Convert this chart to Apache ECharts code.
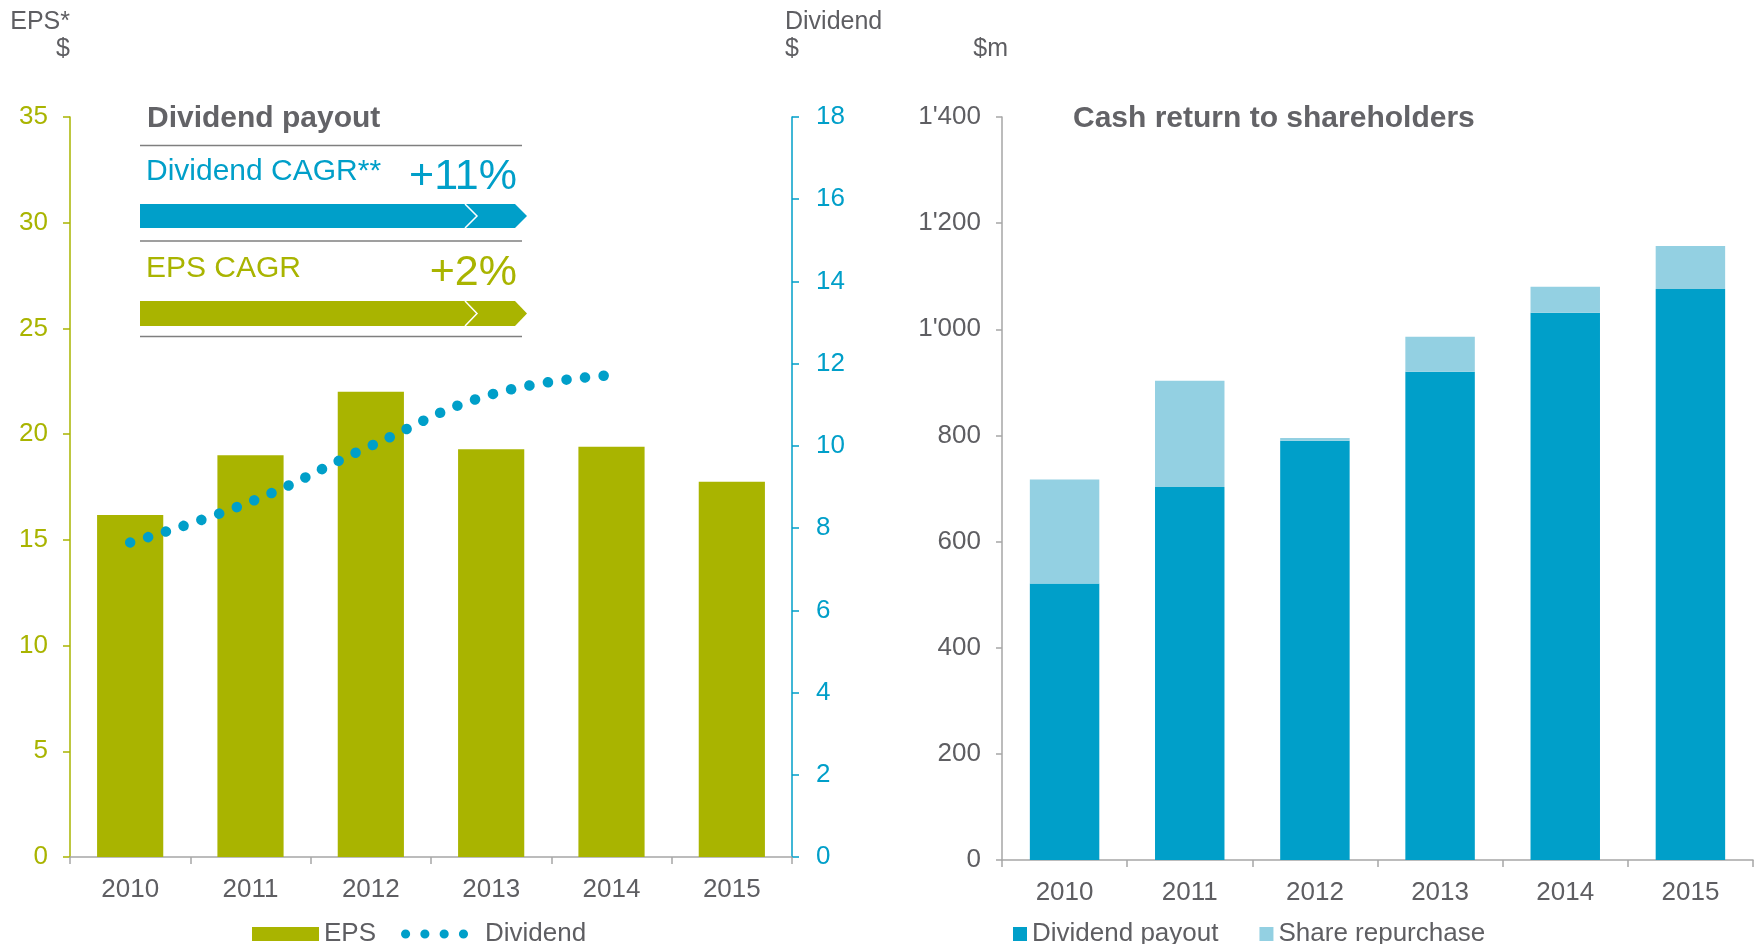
<!DOCTYPE html>
<html>
<head>
<meta charset="utf-8">
<script src="https://cdn.jsdelivr.net/npm/echarts@6/dist/echarts.min.js"></script>
<style>
html,body{margin:0;padding:0;background:#fff;}
#chart{width:1763px;height:944px;}
</style>
</head>
<body>
<div id="chart"></div>
<script>
// ---- data ----
var years = ['2010', '2011', '2012', '2013', '2014', '2015'];
var eps = [16.18, 19.0, 22.0, 19.28, 19.4, 17.75];
var dividend = [7.65, 8.64, 10.0, 11.25, 11.72, null];
var dividendPayout = [521, 703, 790, 920, 1031, 1076];
var shareRepurchase = [196, 200, 5, 66, 49, 81];
var epsTicks = {min: 0, max: 35, step: 5};
var divTicks = {min: 0, max: 18, step: 2};
var cashTicks = {min: 0, max: 1400, step: 200};

var OLIVE = '#A9B400';
var BLUE = '#009FC9';
var LIGHT = '#93D0E2';
var GRAY = '#5E5E62';
var TITLE = '#636367';
var AXIS = '#A6A6A6';
var FONT = '"Liberation Sans", Arial, sans-serif';

function fmtThousands(v) {
  if (v >= 1000) {
    var r = String(v % 1000);
    while (r.length < 3) r = '0' + r;
    return Math.floor(v / 1000) + "'" + r;
  }
  return String(v);
}

var dotsIcon = 'path://M0,4.5a4.5,4.5 0 1,0 9,0a4.5,4.5 0 1,0 -9,0Z M19,4.5a4.5,4.5 0 1,0 9,0a4.5,4.5 0 1,0 -9,0Z M38,4.5a4.5,4.5 0 1,0 9,0a4.5,4.5 0 1,0 -9,0Z M57,4.5a4.5,4.5 0 1,0 9,0a4.5,4.5 0 1,0 -9,0Z';

var chart = echarts.init(document.getElementById('chart'), null, {renderer: 'canvas'});

var option = {
  backgroundColor: '#fff',
  animation: false,
  textStyle: {fontFamily: FONT},
  title: [
    {text: 'Dividend payout', left: 147, top: 104, padding: 0,
     textStyle: {fontFamily: FONT, fontSize: 30, fontWeight: 'bold', color: TITLE}},
    {text: 'Cash return to shareholders', left: 1073, top: 104, padding: 0,
     textStyle: {fontFamily: FONT, fontSize: 30, fontWeight: 'bold', color: TITLE}}
  ],
  legend: [
    {left: 252, top: 921, padding: 0, itemWidth: 67, itemHeight: 14, itemGap: 25,
     textStyle: {fontFamily: FONT, fontSize: 26, color: GRAY},
     data: [{name: 'EPS', icon: 'rect'},
            {name: 'Dividend', icon: dotsIcon, itemStyle: {color: BLUE, borderWidth: 0},
             textStyle: {padding: [0, 0, 0, 12]}}]},
    {left: 1013, top: 921, padding: 0, itemWidth: 14, itemHeight: 14, itemGap: 41,
     textStyle: {fontFamily: FONT, fontSize: 26, color: GRAY},
     data: [{name: 'Dividend payout', icon: 'rect'}, {name: 'Share repurchase', icon: 'rect'}]}
  ],
  grid: [
    {left: 70, top: 117, width: 722, height: 740},
    {left: 1002, top: 117, width: 751, height: 743}
  ],
  xAxis: [
    {type: 'category', gridIndex: 0, data: years,
     axisLine: {show: true, lineStyle: {color: AXIS, width: 1.5}},
     axisTick: {show: true, length: 7, lineStyle: {color: AXIS, width: 1.5}},
     axisLabel: {color: GRAY, fontSize: 26, margin: 20, fontFamily: FONT}},
    {type: 'category', gridIndex: 1, data: years,
     axisLine: {show: true, lineStyle: {color: AXIS, width: 1.5}},
     axisTick: {show: true, length: 7, lineStyle: {color: AXIS, width: 1.5}},
     axisLabel: {color: GRAY, fontSize: 26, margin: 20, fontFamily: FONT}}
  ],
  yAxis: [
    {type: 'value', gridIndex: 0, position: 'left', min: epsTicks.min, max: epsTicks.max, interval: epsTicks.step,
     name: 'EPS*\n$', nameLocation: 'end', nameGap: 54,
     nameTextStyle: {color: GRAY, fontSize: 25, align: 'right', verticalAlign: 'bottom', lineHeight: 27, fontFamily: FONT},
     axisLine: {show: true, lineStyle: {color: OLIVE, width: 1.5}},
     axisTick: {show: true, length: 7, lineStyle: {color: OLIVE, width: 1.5}},
     axisLabel: {color: OLIVE, fontSize: 26, margin: 22, fontFamily: FONT},
     splitLine: {show: false}},
    {type: 'value', gridIndex: 0, position: 'right', min: divTicks.min, max: divTicks.max, interval: divTicks.step,
     name: 'Dividend\n$', nameLocation: 'end', nameGap: 54,
     nameTextStyle: {color: GRAY, fontSize: 25, align: 'left', verticalAlign: 'bottom', lineHeight: 27, fontFamily: FONT, padding: [0, 0, 0, -7]},
     axisLine: {show: true, lineStyle: {color: BLUE, width: 1.5}},
     axisTick: {show: true, length: 7, lineStyle: {color: BLUE, width: 1.5}},
     axisLabel: {color: BLUE, fontSize: 26, margin: 24, fontFamily: FONT},
     splitLine: {show: false}},
    {type: 'value', gridIndex: 1, position: 'left', min: cashTicks.min, max: cashTicks.max, interval: cashTicks.step,
     name: '$m', nameLocation: 'end', nameGap: 54,
     nameTextStyle: {color: GRAY, fontSize: 25, align: 'right', verticalAlign: 'bottom', lineHeight: 27, fontFamily: FONT, padding: [0, -6, 0, 0]},
     axisLine: {show: true, lineStyle: {color: AXIS, width: 1.5}},
     axisTick: {show: true, length: 6, lineStyle: {color: AXIS, width: 1.5}},
     axisLabel: {color: GRAY, fontSize: 26, margin: 21, fontFamily: FONT, formatter: fmtThousands},
     splitLine: {show: false}}
  ],
  series: [
    {name: 'EPS', type: 'bar', xAxisIndex: 0, yAxisIndex: 0, data: eps, barWidth: '55%',
     itemStyle: {color: OLIVE}, z: 2},
    {name: 'Dividend', type: 'line', xAxisIndex: 0, yAxisIndex: 1, data: dividend,
     smooth: 0.45, symbol: 'none', connectNulls: false,
     itemStyle: {color: BLUE},
     lineStyle: {color: BLUE, width: 10.5, type: [0.1, 18.6], cap: 'round'}, z: 5},
    {name: 'Dividend payout', type: 'bar', xAxisIndex: 1, yAxisIndex: 2, stack: 'cash', data: dividendPayout,
     barWidth: '55.5%', itemStyle: {color: BLUE}},
    {name: 'Share repurchase', type: 'bar', xAxisIndex: 1, yAxisIndex: 2, stack: 'cash', data: shareRepurchase,
     barWidth: '55.5%', itemStyle: {color: LIGHT}}
  ],
  graphic: [
    {type: 'line', shape: {x1: 140, y1: 145.5, x2: 522, y2: 145.5}, style: {stroke: '#7F7F7F', lineWidth: 1.5}},
    {type: 'line', shape: {x1: 140, y1: 241, x2: 522, y2: 241}, style: {stroke: '#7F7F7F', lineWidth: 1.5}},
    {type: 'line', shape: {x1: 140, y1: 336.5, x2: 522, y2: 336.5}, style: {stroke: '#7F7F7F', lineWidth: 1.5}},
    {type: 'text', left: 146, top: 157, style: {text: 'Dividend CAGR**', fill: BLUE, fontSize: 30, fontFamily: FONT}},
    {type: 'text', right: 1763 - 517, top: 156, style: {text: '+11%', fill: BLUE, fontSize: 43, fontFamily: FONT}},
    {type: 'polygon', shape: {points: [[140, 204], [515, 204], [527, 216], [515, 228], [140, 228]]}, style: {fill: BLUE}},
    {type: 'polyline', shape: {points: [[465, 204], [477, 216], [465, 228]]}, style: {stroke: '#fff', lineWidth: 1.5, fill: null}},
    {type: 'text', left: 146, top: 254, style: {text: 'EPS CAGR', fill: OLIVE, fontSize: 30, fontFamily: FONT}},
    {type: 'text', right: 1763 - 517, top: 252, style: {text: '+2%', fill: OLIVE, fontSize: 43, fontFamily: FONT}},
    {type: 'polygon', shape: {points: [[140, 301], [515, 301], [527, 313.5], [515, 326], [140, 326]]}, style: {fill: OLIVE}},
    {type: 'polyline', shape: {points: [[465, 301], [477, 313.5], [465, 326]]}, style: {stroke: '#fff', lineWidth: 1.5, fill: null}}
  ]
};
chart.setOption(option);
</script>
</body>
</html>
